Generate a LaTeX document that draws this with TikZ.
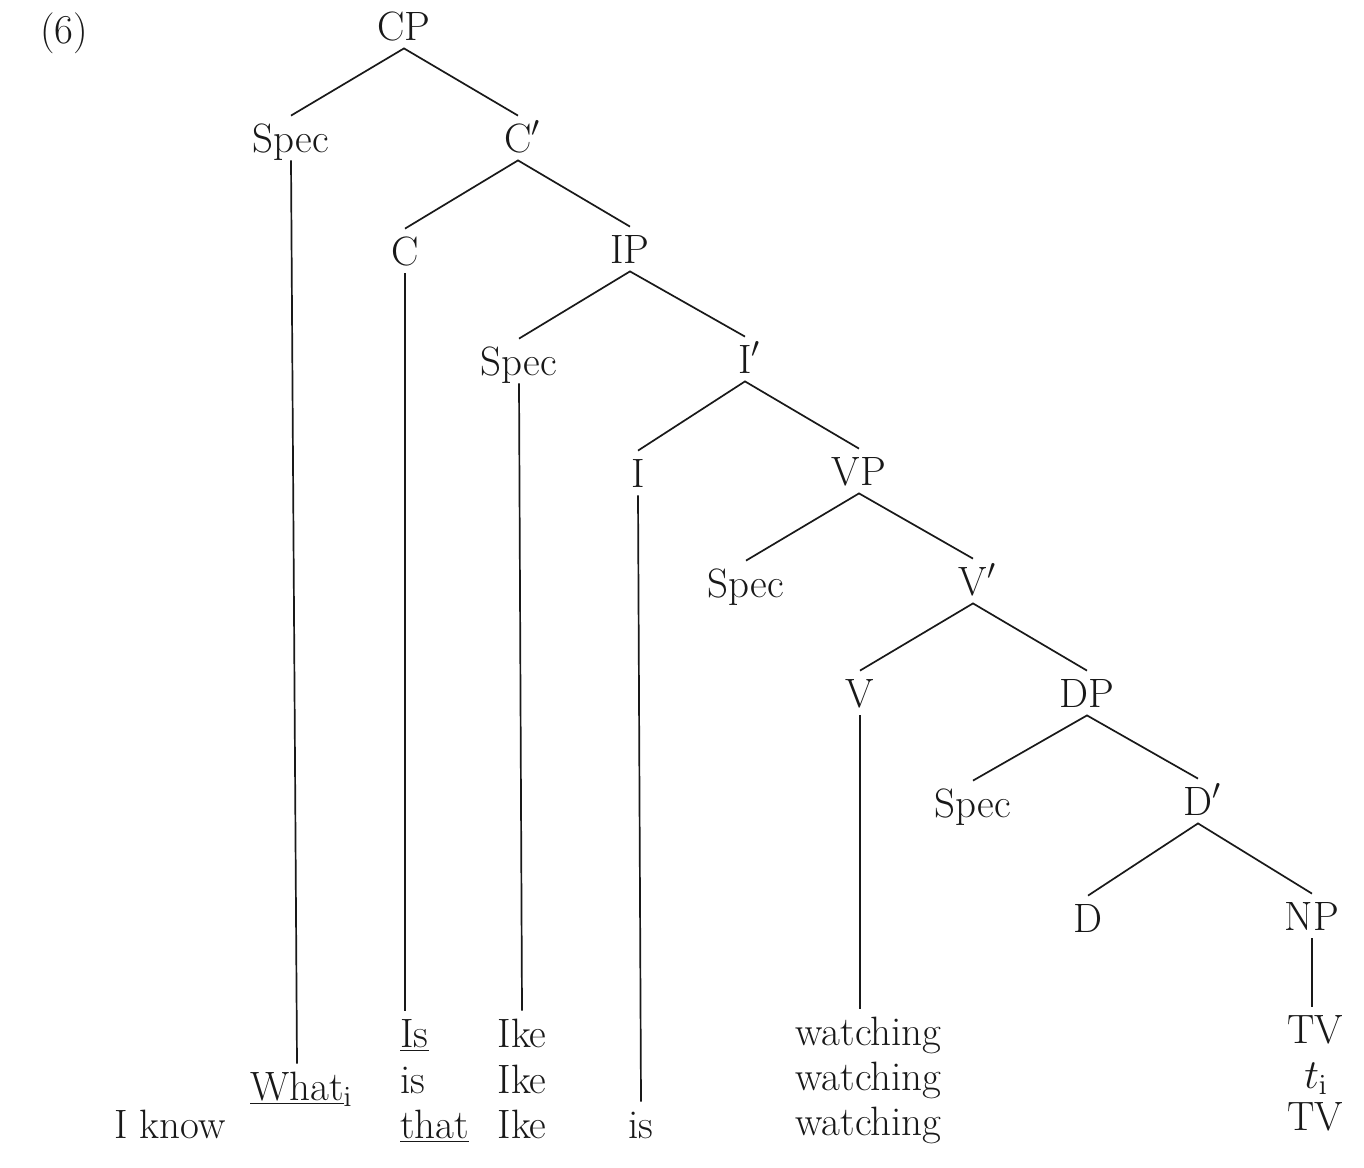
\documentclass[tikz,border=0pt]{standalone}
\usepackage{tikz}

\begin{document}
\begin{tikzpicture}[x=0.5pt,y=-0.5pt]
		\useasboundingbox (0,0) rectangle (1364,1167);
		\tikzstyle{cat}=[anchor=base,inner sep=0pt,text height=18pt,text depth=4pt,font=\fontsize{20.5}{24}\selectfont,text=black!90]
		\tikzstyle{branch}=[line width=0.85pt,black!90]
		\node[cat,anchor=base west] (ex) at (40,43) {(6)};
		% the tree
		\node[cat] (cp) at (404,40) {CP};
		\node[cat] (spec_1) at (291,152) {Spec};
		\node[cat] (cbar) at (518,152) {C\rlap{$'$}};
		\node[cat] (c) at (405,265) {C};
		\node[cat] (ip) at (630,263) {IP};
		\node[cat] (spec_2) at (519,375) {Spec};
		\node[cat] (ibar) at (745,373) {I\rlap{$'$}};
		\node[cat] (i) at (638,487) {I};
		\node[cat] (vp) at (859,485) {VP};
		\node[cat] (spec_3) at (746,597) {Spec};
		\node[cat] (vbar) at (973,595) {V\rlap{$'$}};
		\node[cat] (v) at (860,707) {V};
		\node[cat] (dp) at (1087,707) {DP};
		\node[cat] (spec_4) at (973,817) {Spec};
		\node[cat] (dbar) at (1198,815) {D\rlap{$'$}};
		\node[cat] (d) at (1088,932) {D};
		\node[cat] (np) at (1312,930) {NP};
		% the words
		\node[cat] (what) at (297,1100) {\underline{What}\rlap{$_\mathrm{i}$}};
		\node[cat] (know) at (170,1138) {I know};
		\node[cat,anchor=base west] (is_1) at (400,1047) {\underline{Is}};
		\node[cat,anchor=base west] (is_2) at (400,1093) {is};
		\node[cat,anchor=base west] (that) at (400,1138) {\underline{that}};
		\node[cat] (ike_1) at (522,1047) {Ike};
		\node[cat] (ike_2) at (522,1093) {Ike};
		\node[cat] (ike_3) at (522,1138) {Ike};
		\node[cat] (is_3) at (641,1138) {is};
		\node[cat,anchor=base east] (watch_1) at (942,1045) {watching};
		\node[cat,anchor=base east] (watch_2) at (942,1090) {watching};
		\node[cat,anchor=base east] (watch_3) at (942,1135) {watching};
		\node[cat] (tv_1) at (1315,1043) {TV};
		\node[cat] (trace) at (1316,1088) {$t_\mathrm{i}$};
		\node[cat] (tv_2) at (1315,1130) {TV};
		\draw[branch] (spec_1.north) -- (cp.south) -- (cbar.north);
		\draw[branch] (c.north) -- (cbar.south) -- (ip.north);
		\draw[branch] (spec_2.north) -- (ip.south) -- (ibar.north);
		\draw[branch] (i.north) -- (ibar.south) -- (vp.north);
		\draw[branch] (spec_3.north) -- (vp.south) -- (vbar.north);
		\draw[branch] (v.north) -- (vbar.south) -- (dp.north);
		\draw[branch] (spec_4.north) -- (dp.south) -- (dbar.north);
		\draw[branch] (d.north) -- (dbar.south) -- (np.north);
		\draw[branch] (spec_1.south) -- (what.north);
		\draw[branch] (c.south) -- (c.south |- is_1.north);
		\draw[branch] (spec_2.south) -- (ike_1.north);
		\draw[branch] (i.south) -- (is_3.north);
		\draw[branch] (v.south) -- (v.south |- watch_1.north);
		\draw[branch] (np.south) -- (np.south |- tv_1.north);
	\end{tikzpicture}
\end{document}
